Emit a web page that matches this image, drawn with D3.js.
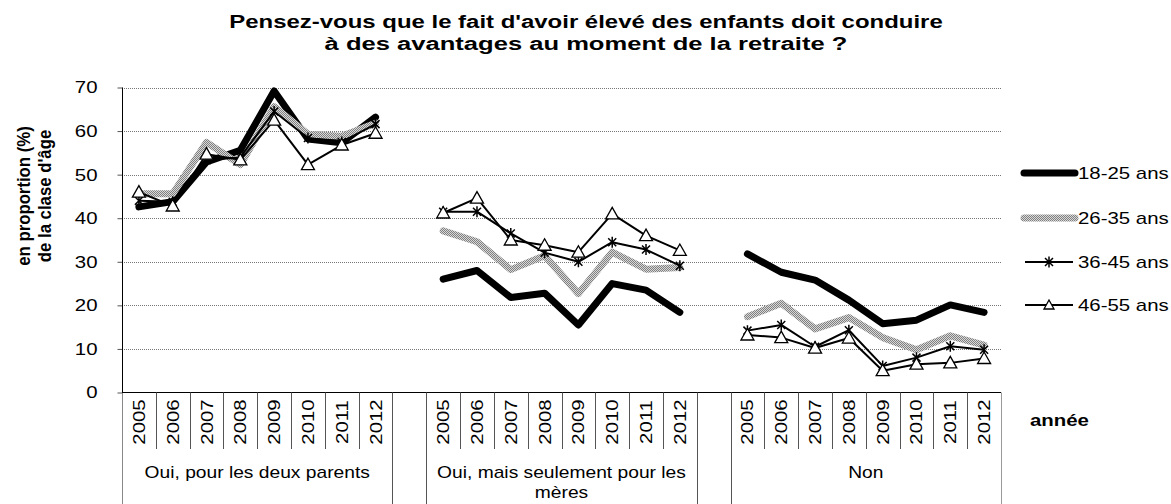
<!DOCTYPE html>
<html>
<head>
<meta charset="utf-8">
<script src="https://d3js.org/d3.v7.min.js"></script>
<style>
  body { margin: 0; background: #fff; }
  svg { font-family: "Liberation Sans", Arial, sans-serif; }
</style>
</head>
<body>
<svg id="chart" width="1171" height="504"></svg>
<script>
// ---- data ----
var years = ['2005','2006','2007','2008','2009','2010','2011','2012'];
var groups = ['Oui, pour les deux parents', 'Oui, mais seulement pour les mères', 'Non'];
var groupLines = [['Oui, pour les deux parents'], ['Oui, mais seulement pour les', 'mères'], ['Non']];
var ageLabels = ['18-25 ans', '26-35 ans', '36-45 ans', '46-55 ans'];
var yTicks = [0, 10, 20, 30, 40, 50, 60, 70];

// values per age class: 8 years x 3 groups
var age18_25 = [42.6, 43.8, 52.9, 55.6, 69.2, 58.2, 57.3, 63.2,
                26.0, 28.0, 21.8, 22.8, 15.5, 25.0, 23.5, 18.4,
                31.8, 27.6, 25.8, 21.2, 15.8, 16.6, 20.1, 18.4];
var age26_35 = [45.6, 45.6, 57.4, 52.3, 65.6, 59.3, 58.8, 61.8,
                37.1, 34.6, 28.2, 31.4, 22.7, 32.2, 28.3, 28.7,
                17.4, 20.5, 14.6, 17.2, 12.6, 9.8, 13.0, 10.9];
var age36_45 = [44.0, 43.8, 53.3, 54.0, 64.5, 58.4, 57.5, 61.6,
                41.5, 41.5, 36.5, 32.1, 30.0, 34.5, 32.8, 29.1,
                14.2, 15.5, 10.5, 14.3, 6.1, 8.0, 10.6, 9.8];
var age46_55 = [46.0, 42.8, 54.7, 53.4, 62.5, 52.3, 56.8, 59.5,
                41.2, 44.6, 35.0, 33.8, 32.2, 41.0, 36.0, 32.6,
                13.2, 12.6, 10.2, 12.5, 5.0, 6.5, 6.8, 7.8];

var seriesData = [age18_25, age26_35, age36_45, age46_55];

// ---- layout ----
var svg = d3.select('#chart');
var plotLeft = 122, plotRight = 1001, plotTop = 87.5, plotBottom = 392.5;

// the reference text is wider than Liberation Sans: stretch it along its own direction
function widen(sel, k) {
  sel.each(function() {
    var w = this.getComputedTextLength();
    d3.select(this).attr('textLength', w * k).attr('lengthAdjust', 'spacingAndGlyphs');
  });
  return sel;
}

// slots: 8 years, 1 empty slot, 8 years, 1 empty slot, 8 years
var slots = [];
groups.forEach(function(g, gi) {
  years.forEach(function(y) { slots.push(gi + '-' + y); });
  if (gi < groups.length - 1) slots.push('gap' + gi);
});

var x = d3.scaleBand().domain(slots).range([plotLeft, plotRight]).padding(0);
var y = d3.scaleLinear().domain([0, 70]).range([plotBottom, plotTop]);

// pattern for the 26-35 line
var defs = svg.append('defs');
var pat = defs.append('pattern')
  .attr('id', 'grey')
  .attr('patternUnits', 'userSpaceOnUse')
  .attr('width', 2).attr('height', 2);
pat.append('rect').attr('width', 2).attr('height', 2).attr('fill', '#d8d8d8');
pat.append('rect').attr('width', 1).attr('height', 1).attr('fill', '#808080');
pat.append('rect').attr('x', 1).attr('y', 1).attr('width', 1).attr('height', 1).attr('fill', '#808080');

// title
widen(svg.append('text')
  .attr('x', 586).attr('y', 28)
  .attr('text-anchor', 'middle')
  .attr('font-weight', 'bold').attr('font-size', 18)
  .text("Pensez-vous que le fait d'avoir élevé des enfants doit conduire"), 1.33);
widen(svg.append('text')
  .attr('x', 586).attr('y', 50)
  .attr('text-anchor', 'middle')
  .attr('font-weight', 'bold').attr('font-size', 18)
  .text('à des avantages au moment de la retraite ?'), 1.42);

// gridlines
svg.append('g')
  .selectAll('line')
  .data(yTicks.filter(function(d) { return d > 0; }))
  .enter().append('line')
    .attr('x1', plotLeft).attr('x2', plotRight)
    .attr('y1', function(d) { return Math.round(y(d)) + 0.5; })
    .attr('y2', function(d) { return Math.round(y(d)) + 0.5; })
    .attr('stroke', '#777')
    .attr('stroke-dasharray', '1,1');

// y axis
var yAxis = svg.append('g')
  .attr('transform', 'translate(' + (plotLeft + 0.5) + ',0)')
  .call(d3.axisLeft(y).tickValues(yTicks).tickSize(5).tickPadding(20));
yAxis.select('.domain').remove();
yAxis.selectAll('text').attr('font-size', 17).attr('fill', '#000')
  .attr('font-family', '"Liberation Sans", Arial, sans-serif');
widen(yAxis.selectAll('text'), 1.2);
yAxis.selectAll('line').attr('stroke', '#555');
svg.append('line')
  .attr('x1', plotLeft + 0.5).attr('x2', plotLeft + 0.5)
  .attr('y1', plotTop).attr('y2', plotBottom)
  .attr('stroke', '#000');
svg.append('line')
  .attr('x1', plotLeft + 0.5).attr('x2', plotLeft + 0.5)
  .attr('y1', plotBottom).attr('y2', 504)
  .attr('stroke', '#888');

// y axis title
widen(svg.append('text')
  .attr('transform', 'translate(30,196) rotate(-90)')
  .attr('text-anchor', 'middle')
  .attr('font-weight', 'bold').attr('font-size', 18)
  .text('en proportion (%)'), 0.93);
widen(svg.append('text')
  .attr('transform', 'translate(51,196) rotate(-90)')
  .attr('text-anchor', 'middle')
  .attr('font-weight', 'bold').attr('font-size', 18)
  .text("de la clase d'âge"), 0.93);

// category axis
svg.append('line')
  .attr('x1', plotLeft).attr('x2', plotRight)
  .attr('y1', plotBottom).attr('y2', plotBottom)
  .attr('stroke', '#000');

var cat = svg.append('g');
slots.forEach(function(s, i) {
  var x0 = x(s);
  var isGap = s.indexOf('gap') === 0;
  var prevGap = i > 0 && slots[i - 1].indexOf('gap') === 0;
  var full = i === 0 || isGap || prevGap;
  if (i > 0) {
    cat.append('line')
      .attr('x1', Math.round(x0) + 0.5).attr('x2', Math.round(x0) + 0.5)
      .attr('y1', plotBottom).attr('y2', full ? 504 : 449)
      .attr('stroke', '#555');
  }
  if (!isGap) {
    var cx = x0 + x.bandwidth() / 2;
    widen(cat.append('text')
      .attr('transform', 'translate(' + (cx + 6) + ',' + 422 + ') rotate(-90)')
      .attr('text-anchor', 'middle')
      .attr('font-size', 17)
      .text(s.split('-')[1]), 1.2);
  }
});
cat.append('line')
  .attr('x1', plotRight + 0.5).attr('x2', plotRight + 0.5)
  .attr('y1', plotBottom).attr('y2', 504)
  .attr('stroke', '#999');

// group labels
groupLines.forEach(function(lines, gi) {
  var a = x(gi + '-2005'), b = x(gi + '-2012') + x.bandwidth();
  lines.forEach(function(t, li) {
    widen(cat.append('text')
      .attr('x', (a + b) / 2).attr('y', 478 + li * 20)
      .attr('text-anchor', 'middle')
      .attr('font-size', 17)
      .text(t), 1.13);
  });
});

widen(svg.append('text')
  .attr('x', 1030).attr('y', 426)
  .attr('font-weight', 'bold').attr('font-size', 17)
  .text('année'), 1.2);

// ---- series ----
var line = d3.line()
  .x(function(d) { return x(d.slot) + x.bandwidth() / 2; })
  .y(function(d) { return y(d.v); });

function pieces(values) {
  return groups.map(function(g, gi) {
    return years.map(function(yr, yi) {
      return { slot: gi + '-' + yr, v: values[gi * 8 + yi] };
    });
  });
}

var styles = [
  { stroke: '#000', width: 7 },
  { stroke: 'url(#grey)', width: 7 },
  { stroke: '#000', width: 2 },
  { stroke: '#000', width: 2 }
];

var starPath = 'M-4,-4L4,4M-4,4L4,-4M0,-5.5L0,5.5';
var triPath = 'M0,-6.5L6.5,5L-6.5,5Z';

seriesData.forEach(function(vals, si) {
  var g = svg.append('g');
  g.selectAll('path.line')
    .data(pieces(vals))
    .enter().append('path')
      .attr('class', 'line')
      .attr('d', line)
      .attr('fill', 'none')
      .attr('stroke', styles[si].stroke)
      .attr('stroke-width', styles[si].width)
      .attr('stroke-linejoin', 'round')
      .attr('stroke-linecap', 'round');
  var pts = [].concat.apply([], pieces(vals));
  if (si === 2) {
    g.selectAll('path.mk').data(pts).enter().append('path')
      .attr('class', 'mk')
      .attr('transform', function(d) { return 'translate(' + line.x()(d) + ',' + line.y()(d) + ')'; })
      .attr('d', starPath)
      .attr('stroke', '#000').attr('stroke-width', 1.5).attr('fill', 'none');
  }
  if (si === 3) {
    g.selectAll('path.mk').data(pts).enter().append('path')
      .attr('class', 'mk')
      .attr('transform', function(d) { return 'translate(' + line.x()(d) + ',' + line.y()(d) + ')'; })
      .attr('d', triPath)
      .attr('stroke', '#000').attr('stroke-width', 1.3).attr('fill', '#fff');
  }
});

// ---- legend ----
var legY = [173, 218, 262, 305];
var leg = svg.append('g');
ageLabels.forEach(function(t, i) {
  var ly = legY[i];
  var thick = i < 2;
  leg.append('line')
    .attr('x1', thick ? 1024 : 1025).attr('x2', thick ? 1075 : 1073)
    .attr('y1', ly).attr('y2', ly)
    .attr('stroke', styles[i].stroke)
    .attr('stroke-width', styles[i].width)
    .attr('stroke-linecap', thick ? 'round' : 'butt');
  if (i === 2) {
    leg.append('path').attr('transform', 'translate(1049,' + ly + ')')
      .attr('d', starPath).attr('stroke', '#000').attr('stroke-width', 1.5).attr('fill', 'none');
  }
  if (i === 3) {
    leg.append('path').attr('transform', 'translate(1049,' + ly + ')')
      .attr('d', 'M0,-5L5,4L-5,4Z').attr('stroke', '#000').attr('stroke-width', 1.3).attr('fill', '#fff');
  }
  widen(leg.append('text')
    .attr('x', 1078).attr('y', ly + 6)
    .attr('font-size', 17)
    .text(t), 1.2);
});
</script>
</body>
</html>
